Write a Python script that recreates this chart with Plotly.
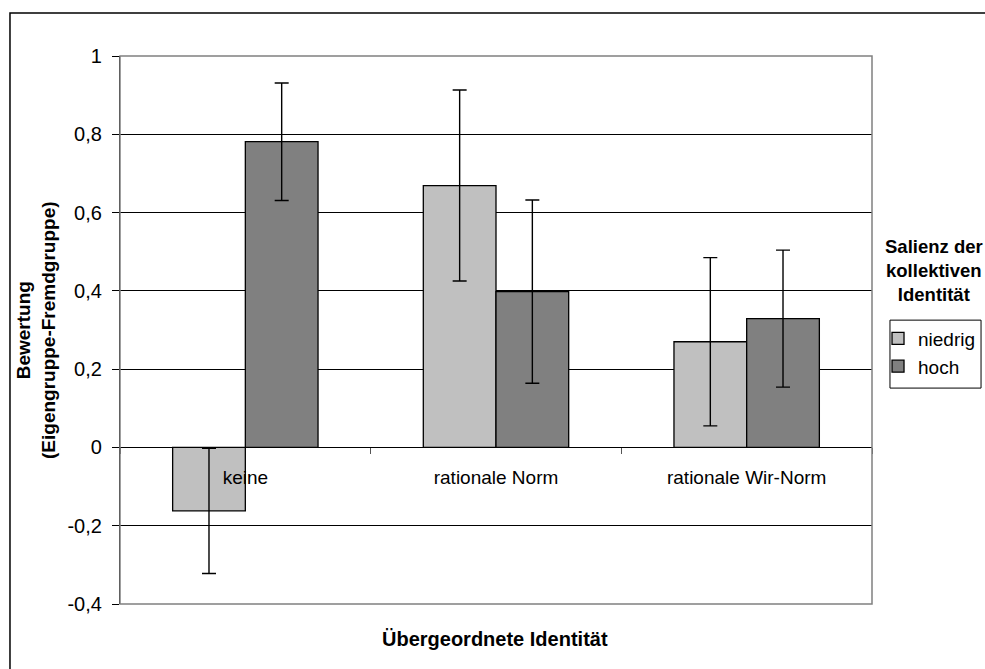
import plotly.graph_objects as go

categories = ["keine", "rationale Norm", "rationale Wir-Norm"]
niedrig = [-0.162, 0.669, 0.270]
niedrig_err = [0.160, 0.244, 0.215]
hoch = [0.781, 0.398, 0.329]
hoch_err = [0.150, 0.234, 0.175]

y_ticks = [-0.4, -0.2, 0, 0.2, 0.4, 0.6, 0.8, 1]
y_labels = ["-0,4", "-0,2", "0", "0,2", "0,4", "0,6", "0,8", "1"]

FONT = "Liberation Sans, Arial, sans-serif"
Y_MIN, Y_MAX = -0.4, 1.0

fig = go.Figure()
fig.add_trace(go.Bar(
    name="niedrig", x=categories, y=niedrig,
    marker=dict(color="#C0C0C0", line=dict(color="#000000", width=1.3)),
    error_y=dict(type="data", array=niedrig_err, color="#000000", thickness=1.4, width=7),
))
fig.add_trace(go.Bar(
    name="hoch", x=categories, y=hoch,
    marker=dict(color="#808080", line=dict(color="#000000", width=1.3)),
    error_y=dict(type="data", array=hoch_err, color="#000000", thickness=1.4, width=7),
))

fig.update_layout(
    width=985, height=669,
    template="plotly_white",
    paper_bgcolor="white", plot_bgcolor="white",
    font=dict(family=FONT, size=19, color="#000000"),
    margin=dict(l=120, r=113, t=56, b=65, autoexpand=False),
    barmode="group", bargap=0.42, bargroupgap=0,
    showlegend=True,
    legend=dict(
        x=1.008, y=0.519, xanchor="left", yanchor="top",
        borderwidth=0, bgcolor="rgba(0,0,0,0)",
        font=dict(family=FONT, size=19, color="#000000"),
        itemwidth=30, traceorder="normal",
    ),
)

fig.update_xaxes(
    anchor="free", position=(0 - Y_MIN) / (Y_MAX - Y_MIN),
    showline=True, linecolor="#000000", linewidth=1,
    ticks="outside", tickson="boundaries", ticklen=6, tickcolor="#555555",
    ticklabelstandoff=13,
    showgrid=False, zeroline=False,
    tickfont=dict(family=FONT, size=19, color="#000000"),
)
fig.update_yaxes(
    range=[Y_MIN, Y_MAX], tickvals=y_ticks, ticktext=y_labels,
    showline=True, linecolor="#000000", linewidth=1.3,
    ticks="outside", ticklen=7, tickcolor="#000000",
    ticklabelstandoff=6,
    showgrid=True, gridcolor="#000000", gridwidth=1, zeroline=False,
    tickfont=dict(family=FONT, size=20, color="#000000"),
)

# plot-area border, legend box and outer frame
fig.add_shape(type="rect", xref="paper", yref="paper", x0=0, x1=1, y0=0, y1=1,
              line=dict(color="#808080", width=1.5), layer="above")
fig.add_shape(type="rect", xref="paper", yref="paper", x0=1.0239, x1=1.145, y0=0.394, y1=0.518,
              line=dict(color="#000000", width=1))
fig.add_shape(type="rect", xref="paper", yref="paper", x0=-0.1463, x1=1.4, y0=-0.4, y1=1.0785,
              line=dict(color="#000000", width=1.5))

fig.add_annotation(text="<b>Bewertung<br>(Eigengruppe-Fremdgruppe)</b>", xref="paper", yref="paper",
                   x=-0.1117, y=0.5, textangle=-90, showarrow=False,
                   xanchor="center", yanchor="middle",
                   font=dict(family=FONT, size=19, color="#000000"))
fig.add_annotation(text="<b>Übergeordnete Identität</b>", xref="paper", yref="paper",
                   x=0.499, y=-0.0639, showarrow=False, yanchor="middle",
                   font=dict(family=FONT, size=20, color="#000000"))
fig.add_annotation(text="<b>Salienz der<br>kollektiven<br>Identität</b>", xref="paper", yref="paper",
                   x=1.0824, y=0.6077, showarrow=False, xanchor="center", yanchor="middle",
                   font=dict(family=FONT, size=18.5, color="#000000"))

# drop the default body margin so the 985x669 figure fills the window exactly
fig.write_html(
    "out.html",
    config={"displayModeBar": False},
    post_script="document.body.style.margin='0';document.body.style.overflow='hidden';",
)
